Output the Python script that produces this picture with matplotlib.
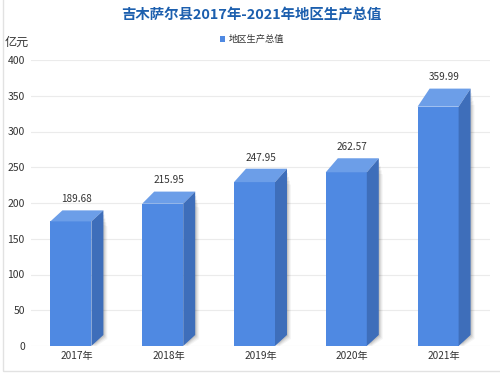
import matplotlib
matplotlib.use("Agg")
import matplotlib.pyplot as plt
from matplotlib.patches import Polygon, Rectangle

plt.rcParams['font.family'] = ['Noto Sans CJK SC', 'DejaVu Sans']

categories = ["2017年", "2018年", "2019年", "2020年", "2021年"]
values = [189.68, 215.95, 247.95, 262.57, 359.99]
value_labels = ["189.68", "215.95", "247.95", "262.57", "359.99"]
yticks = [0, 50, 100, 150, 200, 250, 300, 350, 400]

W, H = 500, 377
fig = plt.figure(figsize=(W / 100, H / 100), dpi=100)
fig.patch.set_facecolor("white")

# frame (left and bottom edges visible)
fig.add_artist(Rectangle((3 / W, 1 - 371 / H), 510 / W, 400 / H,
                         transform=fig.transFigure, fill=False,
                         edgecolor="#e2e2e2", lw=1))

ax = fig.add_axes([31 / W, 1 - 346 / H, (490 - 31) / W, (346 - 60) / H])
ax.set_xlim(-0.5, 4.5)
ax.set_ylim(0, 400)
ax.set_yticks(yticks)
ax.set_yticklabels([str(t) for t in yticks], fontsize=7.5, color="#333333")
ax.set_xticks(range(len(categories)))
ax.set_xticklabels(categories, fontsize=7.3, color="#333333")
ax.tick_params(length=0)
ax.tick_params(axis="x", pad=3.5)
ax.tick_params(axis="y", pad=4.5)
for s in ax.spines.values():
    s.set_visible(False)
ax.grid(axis="y", color="#ebebeb", lw=0.8)
ax.set_axisbelow(True)

band_px = (490 - 31) / 5
px_x = 1 / band_px
px_y = 400 / (346 - 60)
front_w = 41 * px_x
dx = 12 * px_x
dy_bottom = 11 * px_y

c_front = "#4f89e2"
c_top = "#6c9ee8"
c_side = "#3e6eba"

for i, v in enumerate(values):
    xl = i - (front_w + dx) / 2
    xr = xl + front_w
    dy_top = (3.2 + 0.0412 * v) * px_y   # perspective: deeper top on taller bars
    top_front = v - dy_top
    # soft shadow
    for k, a in [(4, 0.04), (3, 0.05), (2, 0.07), (1, 0.09)]:
        sx = k * 1.0 * px_x
        sy = k * 1.0 * px_y
        ax.add_patch(Polygon([(xr + sx, -sy * 0.2), (xr + dx + sx, dy_bottom - sy),
                              (xr + dx + sx, v - 4 * sy), (xr + sx, top_front)],
                             closed=True, facecolor="black", alpha=a, lw=0,
                             zorder=2))
    ax.add_patch(Rectangle((xl, 0), front_w, top_front, facecolor=c_front,
                           edgecolor="none", zorder=3))
    ax.add_patch(Polygon([(xl, top_front), (xl + dx, v), (xr + dx, v), (xr, top_front)],
                         closed=True, facecolor=c_top, edgecolor="none", zorder=3))
    ax.add_patch(Polygon([(xr, 0), (xr + dx, dy_bottom), (xr + dx, v), (xr, top_front)],
                         closed=True, facecolor=c_side, edgecolor="none", zorder=3))
    ax.annotate(value_labels[i], (i, v), xytext=(0, 8), textcoords="offset points",
                ha="center", va="center", fontsize=7.2, color="#333333")

fig.text(251 / W, 1 - 15 / H, "吉木萨尔县2017年-2021年地区生产总值", ha="center",
         va="center", fontsize=10.4, fontweight="bold", color="#1c5fae")
fig.text(5 / W, 1 - 42 / H, "亿元", ha="left", va="center", fontsize=8.7,
         color="#333333")
fig.add_artist(Rectangle((220 / W, 1 - 41.5 / H), 5 / W, 5 / H,
                         transform=fig.transFigure, facecolor=c_front,
                         edgecolor="none"))
fig.text(229 / W, 1 - 39 / H, "地区生产总值", ha="left", va="center", fontsize=6.7,
         color="#333333")

fig.savefig("out.png", dpi=100)
